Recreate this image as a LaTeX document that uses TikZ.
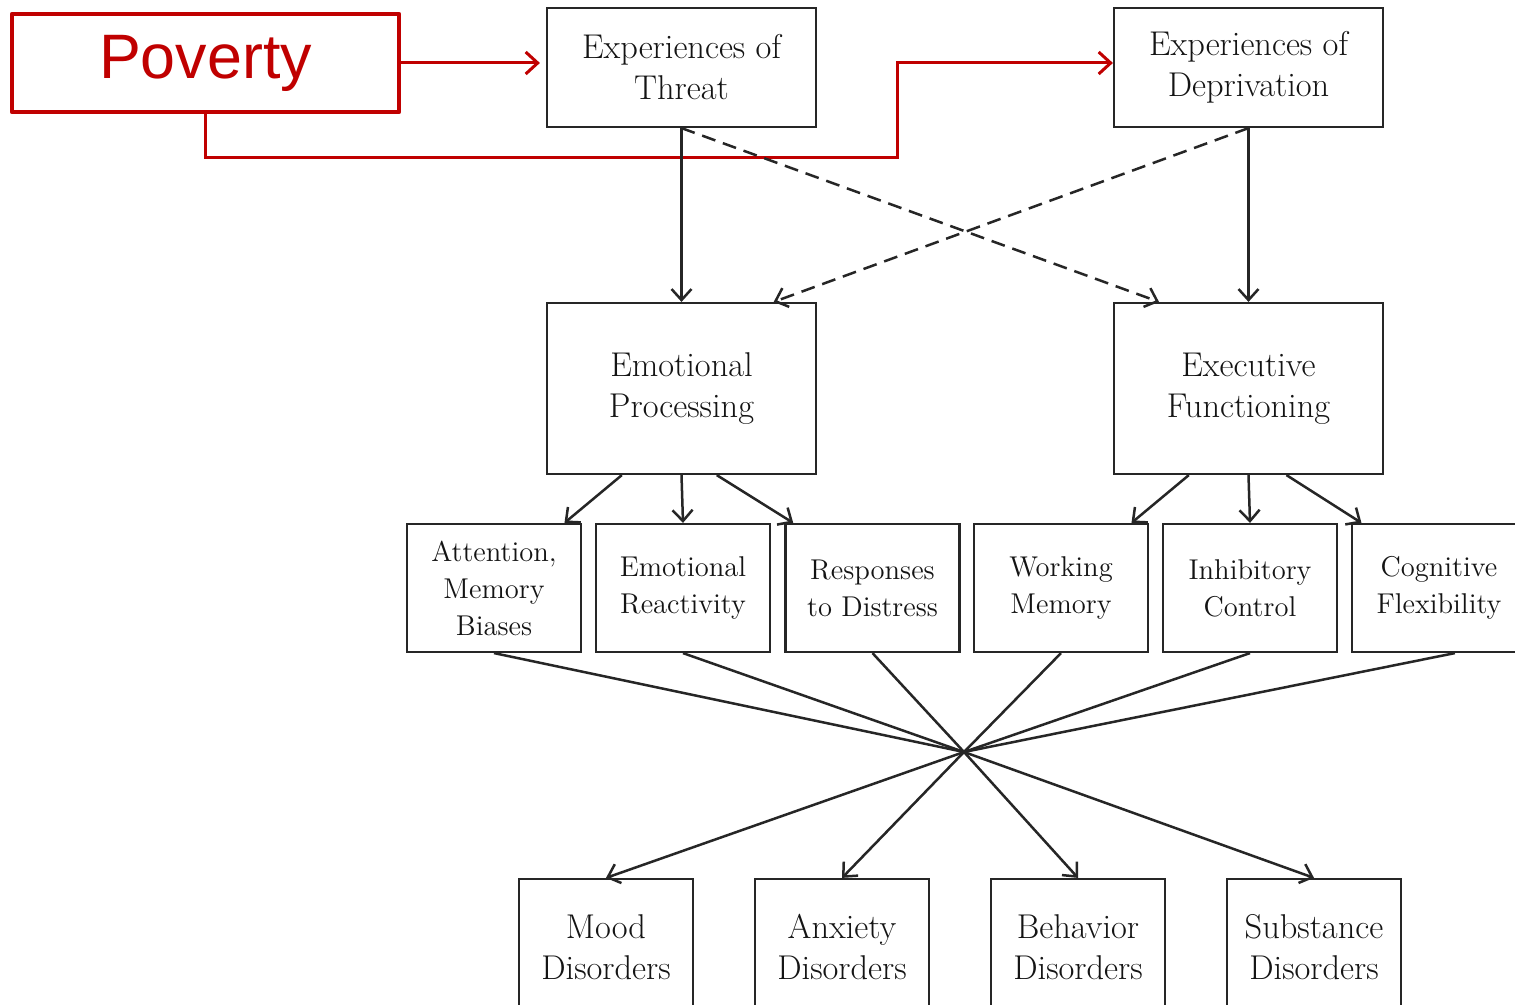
\documentclass[tikz,border=0pt]{standalone}
\usepackage{fontspec}
\newfontfamily\povfont{Liberation Sans}
\usetikzlibrary{arrows.meta,calc}
\definecolor{pred}{RGB}{192,0,0}
\definecolor{ink}{RGB}{38,38,38}
\definecolor{txt}{RGB}{20,20,20}
\begin{document}
\begin{tikzpicture}[x=0.5pt,y=-0.5pt,
  box/.style={draw=ink, line width=1.1pt, inner sep=0pt, align=center, text=txt,
    font=\fontsize{17.2}{20.5}\selectfont},
  topbox/.style={box, minimum width=134.5pt, minimum height=59.5pt},
  midbox/.style={box, minimum width=134.5pt, minimum height=85.5pt},
  smallbox/.style={box, minimum width=87pt, minimum height=64pt,
    font=\fontsize{14.3}{18.5}\selectfont},
  outbox/.style={box, minimum width=87pt, minimum height=68pt},
  arr/.style={draw=ink, line width=1.25pt, -{Straight Barb[length=5.5pt,width=10pt]}},
  darr/.style={arr, dash pattern=on 7pt off 4pt},
  rarr/.style={draw=pred, line width=1.5pt, -{Straight Barb[length=6pt,width=11pt]}},
  povbox/.style={draw=pred, line width=2.2pt, line join=round, inner sep=0pt,
    minimum width=193.5pt, minimum height=49pt, text=pred,
    font=\povfont\fontsize{31.4}{36}\selectfont}]
\useasboundingbox (0,0) rectangle (1515,1005);
\clip (0,0) rectangle (1515,1005);
\fill[white] (0,0) rectangle (1515,1005);

% nodes
\node[povbox] (pov) at (205.5,63) {Poverty};
\node[topbox] (thr) at (681.5,67.5) {Experiences of\\Threat};
\node[topbox] (dep) at (1248.5,67.5) {Experiences of\\Deprivation};
\node[midbox] (ep) at (681.5,388.5) {Emotional\\Processing};
\node[midbox] (ef) at (1248.5,388.5) {Executive\\Functioning};

\node[smallbox] (att) at (494,588) {Attention,\\Memory\\Biases};
\node[smallbox] (rea) at (683,588) {Emotional\\Reactivity};
\node[smallbox] (res) at (872.5,588) {Responses\\to Distress};
\node[smallbox] (wm)  at (1061,588) {Working\\Memory};
\node[smallbox] (inh) at (1250,588) {Inhibitory\\Control};
\node[smallbox] (cog) at (1439,588) {Cognitive\\Flexibility};

\node[outbox] (mood) at (606,947) {Mood\\Disorders};
\node[outbox] (anx)  at (842,947) {Anxiety\\Disorders};
\node[outbox] (beh)  at (1078,947) {Behavior\\Disorders};
\node[outbox] (sub)  at (1314,947) {Substance\\Disorders};

\coordinate (hub) at (964,752);
\coordinate (bend) at (897,158);

% red connectors
\draw[rarr, shorten >=3pt] (pov.east) -- (pov.east -| thr.west);
\draw[rarr] (pov.south) |- (bend) |- (pov.east -| dep.west);

% top level
\draw[arr] (thr.south) -- (ep.north);
\draw[arr] (dep.south) -- (ef.north);
\draw[darr] (thr.south) -- ($(ef.north west)!0.17!(ef.north east)$);
\draw[darr] (dep.south) -- ($(ep.north west)!0.84!(ep.north east)$);

% second level
\draw[arr] ($(ep.south west)!0.28!(ep.south east)$) -- ($(att.north west)!0.9!(att.north east)$);
\draw[arr] (ep.south) -- (rea.north);
\draw[arr] ($(ep.south west)!0.63!(ep.south east)$) -- ($(res.north west)!0.05!(res.north east)$);
\draw[arr] ($(ef.south west)!0.28!(ef.south east)$) -- ($(wm.north west)!0.9!(wm.north east)$);
\draw[arr] (ef.south) -- (inh.north);
\draw[arr] ($(ef.south west)!0.64!(ef.south east)$) -- ($(cog.north west)!0.06!(cog.north east)$);

% to hub
\draw[draw=ink, line width=1.25pt] (att.south) -- (hub);
\draw[draw=ink, line width=1.25pt] (rea.south) -- (hub);
\draw[draw=ink, line width=1.25pt] (res.south) -- (hub);
\draw[draw=ink, line width=1.25pt] (wm.south) -- (hub);
\draw[draw=ink, line width=1.25pt] (inh.south) -- (hub);
\draw[draw=ink, line width=1.25pt] ($(cog.south west)!0.59!(cog.south east)$) -- (hub);

% from hub
\draw[arr] (hub) -- (mood.north);
\draw[arr] (hub) -- (anx.north);
\draw[arr] (hub) -- (beh.north);
\draw[arr] (hub) -- (sub.north);
\end{tikzpicture}
\end{document}
